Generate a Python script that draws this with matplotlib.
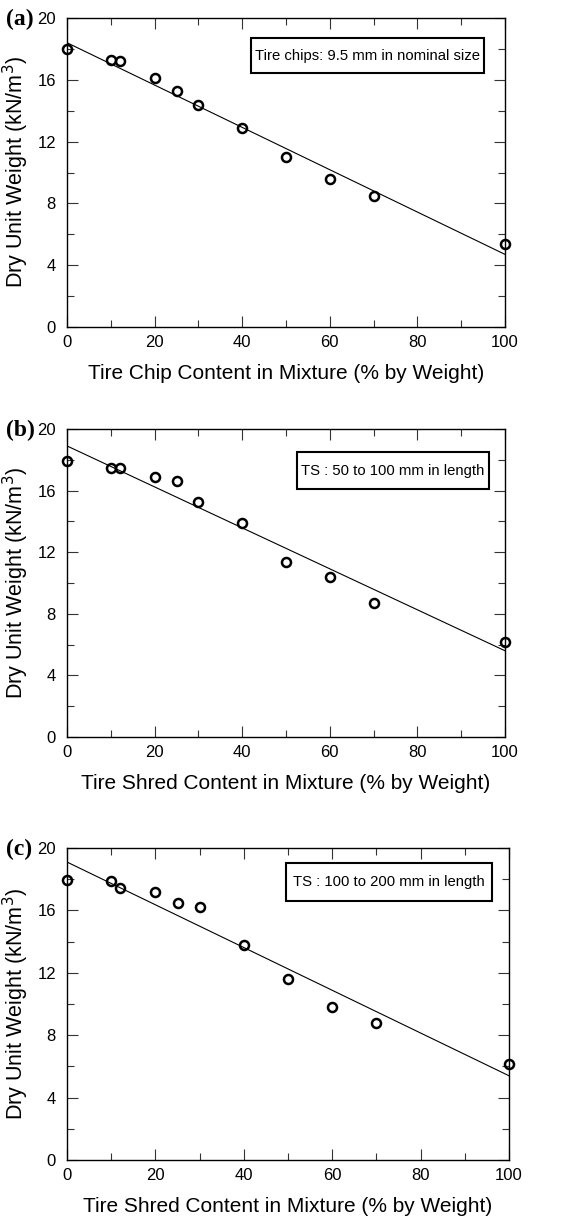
import numpy as np
import matplotlib
matplotlib.use("Agg")
import matplotlib.pyplot as plt
from matplotlib.patches import Rectangle

plt.rcParams["font.family"] = ["Liberation Sans", "DejaVu Sans"]

# tire content (% by weight)
content = [0, 10, 12, 20, 25, 30, 40, 50, 60, 70, 100]

# dry unit weight (kN/m3)
weight_a = [18.0, 17.3, 17.2, 16.1, 15.3, 14.35, 12.9, 11.0, 9.6, 8.47, 5.35]
weight_b = [17.9, 17.45, 17.5, 16.9, 16.6, 15.24, 13.9, 11.35, 10.4, 8.7, 6.2]
weight_c = [17.93, 17.86, 17.45, 17.16, 16.5, 16.24, 13.8, 11.58, 9.83, 8.76, 6.15]

# fitted lines: value at 0 % and 100 %
fit_a = [18.4, 4.7]
fit_b = [18.9, 5.6]
fit_c = [19.1, 5.4]

panels = ["(a)", "(b)", "(c)"]
notes = ["Tire chips: 9.5 mm in nominal size",
         "TS : 50 to 100 mm in length",
         "TS : 100 to 200 mm in length"]
xlabels = ["Tire Chip Content in Mixture (% by Weight)",
           "Tire Shred Content in Mixture (% by Weight)",
           "Tire Shred Content in Mixture (% by Weight)"]

W, H = 565, 1221
fig = plt.figure(figsize=(W / 100, H / 100), dpi=100)

# axes boxes in pixels: left, top, right, bottom
boxes = [(67, 18, 505, 327), (67, 429, 505, 737), (67, 848, 509, 1160)]
# note boxes in axes fractions: x0, x1, y0, y1
note_box = [(0.420, 0.952, 0.822, 0.935),
            (0.525, 0.963, 0.805, 0.925),
            (0.495, 0.962, 0.830, 0.952)]

data = [weight_a, weight_b, weight_c]
fits = [fit_a, fit_b, fit_c]

for i in range(3):
    l, t, r, b = boxes[i]
    ax = fig.add_axes([l / W, 1 - b / H, (r - l) / W, (b - t) / H])
    ax.plot([0, 100], fits[i], color="black", lw=0.8)
    ax.plot(content, data[i], "o", mfc="none", mec="black", mew=1.8, ms=6.5, clip_on=False)
    ax.set_xlim(0, 100)
    ax.set_ylim(0, 20)
    ax.set_xticks(np.arange(0, 101, 20))
    ax.set_xticks(np.arange(10, 100, 20), minor=True)
    ax.set_yticks(np.arange(0, 21, 4))
    ax.set_yticks(np.arange(2, 20, 4), minor=True)
    ax.tick_params(which="both", direction="in", top=True, right=True, labelsize=12, width=0.8, color="#333333")
    ax.tick_params(which="major", length=8)
    ax.tick_params(which="minor", length=5)
    ax.tick_params(axis="y", pad=8)
    ax.tick_params(axis="x", pad=6)
    for s in ax.spines.values():
        s.set_linewidth(1.0)
    ax.set_xlabel(xlabels[i], fontsize=15, labelpad=10)
    ax.set_ylabel("Dry Unit Weight (kN/m$^3$)", fontsize=15.5)
    ax.yaxis.set_label_coords(-36 / (r - l), 0.5)

    x0, x1, y0, y1 = note_box[i]
    ax.add_patch(Rectangle((x0, y0), x1 - x0, y1 - y0, transform=ax.transAxes,
                           fc="white", ec="black", lw=1.5, zorder=5))
    ax.text((x0 + x1) / 2, (y0 + y1) / 2, notes[i], transform=ax.transAxes,
            ha="center", va="center", fontsize=10.7, zorder=6)
    fig.text(6 / W, 1 - (t + 1) / H, panels[i], family="Liberation Serif",
             fontweight="bold", fontsize=17, ha="left", va="center")

fig.savefig("out.png", dpi=100)
